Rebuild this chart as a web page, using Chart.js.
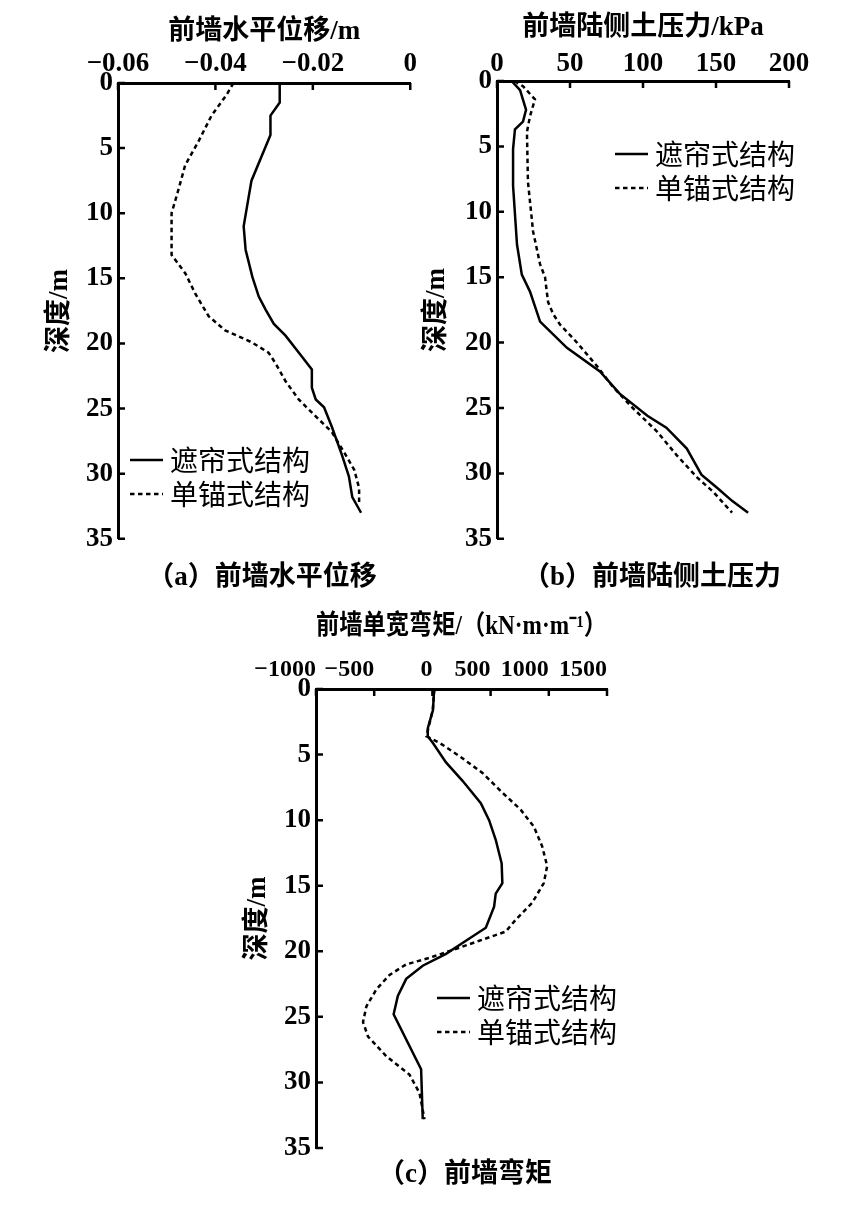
<!DOCTYPE html>
<html>
<head>
<meta charset="utf-8">
<script src="https://cdn.jsdelivr.net/npm/chart.js@4.4.0/dist/chart.umd.min.js"></script>
<style>
    body { margin: 0; background: #fff; width: 847px; height: 1209px; position: relative; overflow: hidden; }
    canvas { position: absolute; }
    .cap { position: absolute; transform: translate(-50%, -50%); white-space: nowrap;
           font: bold 27px 'Liberation Serif', 'Noto Sans CJK SC', serif; color: #000; }
</style>
</head>
<body>
<canvas id="chart-a" width="420" height="560" style="left:0;top:0;width:420px;height:560px"></canvas>
<canvas id="chart-b" width="427" height="560" style="left:420px;top:0;width:427px;height:560px"></canvas>
<canvas id="chart-c" width="460" height="600" style="left:200px;top:590px;width:460px;height:600px"></canvas>
<div class="cap" style="left:262px;top:573px">（a）前墙水平位移</div>
<div class="cap" style="left:652px;top:573px">（b）前墙陆侧土压力</div>
<div class="cap" style="left:465px;top:1170px">（c）前墙弯矩</div>
<script>
(function() {
    'use strict';

    var SERIF = "'Liberation Serif', 'Noto Sans CJK SC', serif";
    var CJK = "'Noto Sans CJK SC', sans-serif";

    var seriesLabels = ['遮帘式结构', '单锚式结构'];
    var depthTicks = [0, 5, 10, 15, 20, 25, 30, 35];
    var depthTickLabels = ['0', '5', '10', '15', '20', '25', '30', '35'];

    // (a) horizontal displacement, m
    var dispTicks = [-0.06, -0.04, -0.02, 0];
    var dispTickLabels = ['−0.06', '−0.04', '−0.02', '0'];
    var dispDepthCurtain = [0, 1.5, 2.5, 4, 7.5, 8.8, 11, 12.8, 14.9, 16.4, 17.4, 18.5, 19.4, 20.7, 22, 23.4, 24.3, 24.9, 26.4, 28.6, 30.2, 31.8, 33];
    var dispCurtain = [-0.0268, -0.0268, -0.0287, -0.0287, -0.0326, -0.0332, -0.0342, -0.0338, -0.0324, -0.0311, -0.0297, -0.028, -0.0256, -0.0229, -0.0202, -0.0202, -0.0194, -0.0177, -0.0161, -0.014, -0.0126, -0.0119, -0.0101];
    var dispDepthAnchor = [0, 0.9, 2.5, 4.5, 6.3, 8.2, 10, 13.2, 14.6, 16.2, 17.9, 19, 19.9, 20.7, 21.5, 22.9, 24.3, 25.6, 26.8, 28.6, 29.7, 31.1, 32.2];
    var dispAnchor = [-0.0363, -0.0377, -0.0408, -0.0435, -0.0462, -0.0476, -0.049, -0.049, -0.0462, -0.0441, -0.0414, -0.038, -0.0326, -0.0291, -0.0277, -0.0256, -0.0229, -0.0194, -0.0161, -0.0132, -0.0115, -0.0105, -0.0105];

    // (b) land-side earth pressure, kPa
    var pressTicks = [0, 50, 100, 150, 200];
    var pressTickLabels = ['0', '50', '100', '150', '200'];
    var pressDepthCurtain = [0, 0.7, 2.2, 3.1, 3.7, 5.2, 8, 12.5, 14.8, 16.1, 18.4, 20.4, 22.2, 23.9, 25.6, 26.5, 28.1, 30.1, 31.1, 32.1, 33];
    var pressCurtain = [10, 15.8, 19.9, 17.8, 12.3, 11, 11, 13.7, 17, 22.6, 29.5, 47.9, 70.5, 84, 103, 116, 130, 140, 150.7, 161, 172];
    var pressDepthAnchor = [0, 0.4, 1.4, 2.7, 3.9, 7.7, 11.5, 14, 15, 16.2, 16.9, 17.8, 18.6, 20, 21.8, 23.4, 25, 26.8, 28.6, 30.3, 31.4, 33];
    var pressAnchor = [12, 17.8, 26, 22.6, 20.5, 21.2, 24.7, 29.5, 32.9, 34.2, 35, 38.4, 43, 54.8, 68.5, 79.5, 93, 109.6, 123, 137, 148, 161];

    // (c) bending moment per width, kN·m/m
    var momentTicks = [-1000, -500, 0, 500, 1000, 1500];
    var momentTickLabels = ['−1000', '−500', '0', '500', '1000', '1500'];
    var momentDepthCurtain = [0, 1.6, 3.0, 3.6, 4.1, 5.6, 7.0, 8.7, 10, 11.5, 13.3, 14.8, 15.6, 16.6, 18.2, 19.2, 20.2, 21.1, 22.1, 23.4, 24.8, 29, 32.8];
    var momentCurtain = [15, 5, -40, -40, 3, 117, 259, 416, 487, 544, 595, 601, 544, 530, 459, 288, 117, -83, -225, -297, -333, -97, -83];
    var momentDepthAnchor = [0, 1.6, 3.6, 4.1, 5.1, 6.4, 7.9, 9.2, 10.5, 12, 13.5, 14.8, 16.3, 17.6, 18.5, 19.2, 19.9, 20.5, 21, 21.8, 22.9, 24.2, 25.4, 26.5, 28, 29.4, 30.8, 32.8];
    var momentAnchor = [17, 3, -51, 60, 230, 430, 601, 758, 872, 943, 986, 957, 857, 715, 630, 402, 174, -26, -225, -368, -481, -567, -596, -553, -396, -197, -111, -68];

    function _points(xs, ys) {
        var pts = [];
        for (var i = 0; i < xs.length; i++) {
            pts.push({x: xs[i], y: ys[i]});
        }
        return pts;
    }

    // tick marks point into the plot, like the printed figure
    var insideTicks = {
        id: 'insideTicks',
        afterDraw: function(chart) {
            var ctx = chart.ctx,
                area = chart.chartArea,
                sx = chart.scales.x,
                sy = chart.scales.y;
            ctx.save();
            ctx.strokeStyle = '#000';
            ctx.lineWidth = 2.5;
            ctx.beginPath();
            sx.ticks.forEach(function(t) {
                var px = sx.getPixelForValue(t.value);
                ctx.moveTo(px, area.top);
                ctx.lineTo(px, area.top + 7);
            });
            sy.ticks.forEach(function(t) {
                var py = sy.getPixelForValue(t.value);
                ctx.moveTo(area.left, py);
                ctx.lineTo(area.left + 7, py);
            });
            ctx.stroke();
            ctx.restore();
        }
    };

    var innerLegend = {
        id: 'innerLegend',
        afterDraw: function(chart, args, opts) {
            var ctx = chart.ctx;
            ctx.save();
            ctx.font = '28px ' + CJK;
            ctx.fillStyle = '#000';
            ctx.textBaseline = 'middle';
            chart.data.datasets.forEach(function(ds, i) {
                var y = opts.y + i * 34;
                ctx.beginPath();
                ctx.setLineDash(ds.borderDash || []);
                ctx.lineWidth = ds.borderWidth;
                ctx.strokeStyle = ds.borderColor;
                ctx.moveTo(opts.x, y);
                ctx.lineTo(opts.x + 33, y);
                ctx.stroke();
                ctx.setLineDash([]);
                ctx.fillText(ds.label, opts.x + 40, y);
            });
            ctx.restore();
        }
    };

    function buildChart(id, cfg) {
        var titleFont = {family: SERIF, size: 27, weight: 'bold'};
        return new Chart(document.getElementById(id), {
            type: 'scatter',
            data: {
                datasets: [{
                    label: seriesLabels[0],
                    data: _points(cfg.curtain[0], cfg.curtain[1]),
                    showLine: true,
                    borderColor: '#000',
                    borderWidth: 2.5,
                    pointRadius: 0,
                    tension: 0
                }, {
                    label: seriesLabels[1],
                    data: _points(cfg.anchor[0], cfg.anchor[1]),
                    showLine: true,
                    borderColor: '#000',
                    borderWidth: 2.5,
                    borderDash: [4.5, 3.5],
                    pointRadius: 0,
                    tension: 0
                }]
            },
            options: {
                responsive: false,
                animation: false,
                devicePixelRatio: 1,
                layout: {padding: cfg.pad},
                plugins: {
                    legend: {display: false},
                    tooltip: {enabled: false},
                    innerLegend: cfg.legend
                },
                scales: {
                    x: {
                        type: 'linear',
                        position: 'top',
                        min: cfg.xTicks[0],
                        max: cfg.xTicks[cfg.xTicks.length - 1],
                        afterBuildTicks: function(s) {
                            s.ticks = cfg.xTicks.map(function(v) { return {value: v}; });
                        },
                        afterFit: function(s) { s.height = cfg.xH; },
                        grid: {display: false, drawTicks: false, tickLength: 0},
                        border: {display: true, color: '#000', width: 3},
                        ticks: {
                            autoSkip: false,
                            maxRotation: 0,
                            color: '#000',
                            padding: cfg.xPad,
                            align: cfg.xAlign || 'center',
                            font: {family: SERIF, size: cfg.xSize || 27, weight: 'bold'},
                            callback: function(v, i) { return cfg.xLabels[i]; }
                        },
                        title: {
                            display: true,
                            text: cfg.xTitle,
                            color: '#000',
                            font: titleFont,
                            padding: {top: cfg.xTitlePad, bottom: 0}
                        }
                    },
                    y: {
                        type: 'linear',
                        reverse: true,
                        min: 0,
                        max: 35,
                        afterBuildTicks: function(s) {
                            s.ticks = depthTicks.map(function(v) { return {value: v}; });
                        },
                        afterFit: function(s) { s.width = cfg.yW; },
                        grid: {display: false, drawTicks: false, tickLength: 0},
                        border: {display: true, color: '#000', width: 3},
                        ticks: {
                            autoSkip: false,
                            color: '#000',
                            padding: 5,
                            font: {family: SERIF, size: 27, weight: 'bold'},
                            callback: function(v, i) { return depthTickLabels[i]; }
                        },
                        title: {
                            display: true,
                            text: '深度/m',
                            color: '#000',
                            font: titleFont,
                            padding: {top: cfg.yTitlePad, bottom: 0}
                        }
                    }
                }
            },
            plugins: [insideTicks, innerLegend]
        });
    }

    buildChart('chart-a', {
        curtain: [dispCurtain, dispDepthCurtain],
        anchor: [dispAnchor, dispDepthAnchor],
        xTicks: dispTicks,
        xLabels: dispTickLabels,
        xTitle: '前墙水平位移/m',
        pad: {left: 0, top: 0, right: 9, bottom: 15},
        xH: 83, yW: 118, xPad: 3,
        xTitlePad: 16, yTitlePad: 44,
        legend: {x: 130, y: 460}
    });

    buildChart('chart-b', {
        curtain: [pressCurtain, pressDepthCurtain],
        anchor: [pressAnchor, pressDepthAnchor],
        xTicks: pressTicks,
        xLabels: pressTickLabels,
        xTitle: '前墙陆侧土压力/kPa',
        pad: {left: 0, top: 0, right: 58, bottom: 15},
        xH: 81, yW: 77, xPad: 1,
        xTitlePad: 12, yTitlePad: 1,
        legend: {x: 195, y: 154}
    });

    buildChart('chart-c', {
        curtain: [momentCurtain, momentDepthCurtain],
        anchor: [momentAnchor, momentDepthAnchor],
        xTicks: momentTicks,
        xLabels: momentTickLabels,
        xTitle: '前墙单宽弯矩/（kN·m·m⁻¹）',
        pad: {left: 0, top: 0, right: 53, bottom: 42},
        xH: 99, yW: 116, xPad: 5, xSize: 24, xAlign: 'end',
        xTitlePad: 21, yTitlePad: 42,
        legend: {x: 237, y: 408}
    });
})();
</script>
</body>
</html>
